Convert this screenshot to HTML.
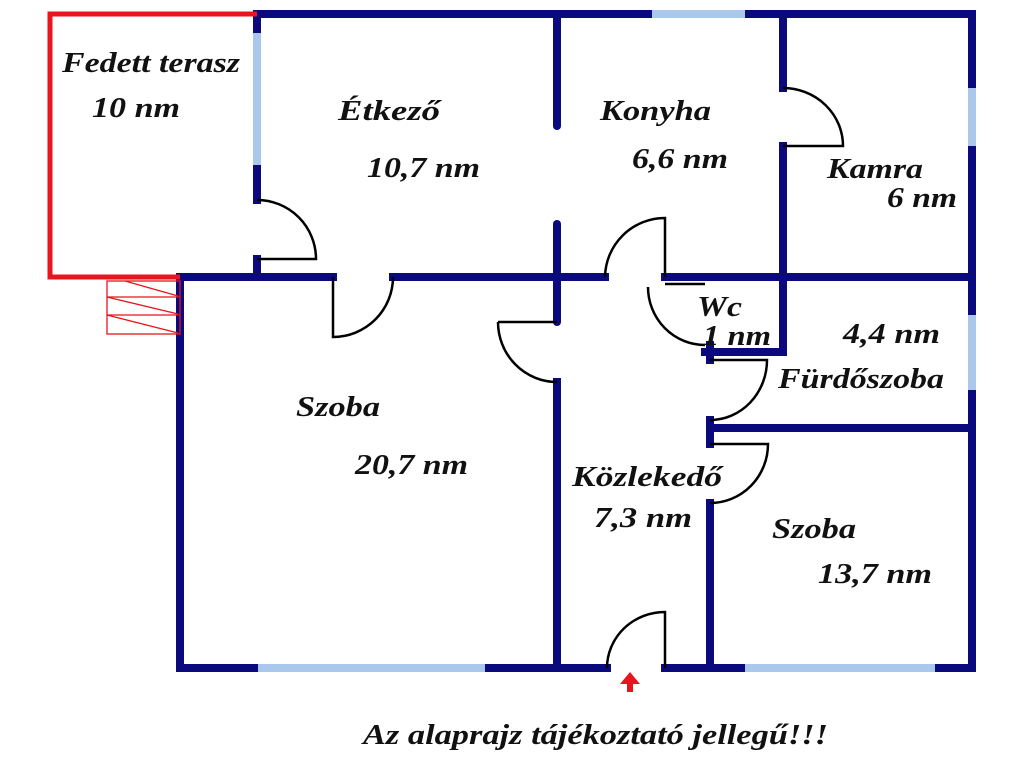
<!DOCTYPE html>
<html><head><meta charset="utf-8"><style>
html,body{margin:0;padding:0;background:#fff;}
svg{display:block;}
text{font-family:"Liberation Serif",serif;font-weight:bold;font-style:italic;font-size:29px;fill:#111;}
</style></head><body>
<svg width="1024" height="768" viewBox="0 0 1024 768" xmlns="http://www.w3.org/2000/svg">
<g stroke="#0a0a7c" stroke-width="8" stroke-linecap="square" fill="none">
<line x1="257" y1="14" x2="972" y2="14"/>
<line x1="972" y1="14" x2="972" y2="668"/>
<line x1="180" y1="668" x2="607" y2="668"/>
<line x1="665" y1="668" x2="972" y2="668"/>
<line x1="180" y1="277" x2="180" y2="668"/>
<line x1="257" y1="14" x2="257" y2="200"/>
<line x1="257" y1="259" x2="257" y2="277"/>
<line x1="180" y1="277" x2="333" y2="277"/>
<line x1="393" y1="277" x2="605" y2="277"/>
<line x1="665" y1="277" x2="972" y2="277"/>
<line x1="557" y1="14" x2="557" y2="126" stroke-linecap="round"/>
<line x1="557" y1="224" x2="557" y2="322" stroke-linecap="round"/>
<line x1="557" y1="382" x2="557" y2="668"/>
<line x1="783" y1="14" x2="783" y2="88"/>
<line x1="783" y1="146" x2="783" y2="352"/>
<line x1="705" y1="352" x2="783" y2="352"/>
<line x1="710" y1="345" x2="710" y2="360"/>
<line x1="710" y1="420" x2="710" y2="444"/>
<line x1="710" y1="428" x2="972" y2="428"/>
<line x1="710" y1="503" x2="710" y2="668"/>
</g>
<g stroke="#a9c8ec" stroke-width="8">
<line x1="652" y1="14" x2="745" y2="14"/>
<line x1="257" y1="33" x2="257" y2="165"/>
<line x1="972" y1="88" x2="972" y2="146"/>
<line x1="972" y1="315" x2="972" y2="390"/>
<line x1="258" y1="668" x2="485" y2="668"/>
<line x1="745" y1="668" x2="935" y2="668"/>
</g>
<g stroke="#e8141e" stroke-width="5" fill="none">
<polyline points="257,14 50,14 50,277 180,277"/>
</g>
<g stroke="#e8141e" stroke-width="1.3" fill="none">
<rect x="107" y="281" width="73" height="53"/>
<line x1="107" y1="297" x2="180" y2="297"/>
<line x1="107" y1="315" x2="180" y2="315"/>
<line x1="125" y1="281" x2="178" y2="296"/>
<line x1="107" y1="297" x2="178" y2="314"/>
<line x1="107" y1="315" x2="178" y2="333"/>
</g>
<g stroke="#000" stroke-width="2.5" fill="none">
<path d="M257,200 A59,59 0 0 1 316,259 L257,259"/>
<path d="M333,277 L333,337 A60,60 0 0 0 393,277"/>
<path d="M605,277 A60,60 0 0 1 665,218 L665,277"/>
<path d="M498,322 L557,322 M498,322 A59,60 0 0 0 557,382"/>
<path d="M783,88 A60,58 0 0 1 843,146 L783,146"/>
<path d="M665,284 L705,284 M648,287 A57,58 0 0 0 705,345"/>
<path d="M710,360 L767,360 A57,60 0 0 1 710,420"/>
<path d="M710,444 L768,444 A58,59 0 0 1 710,503"/>
<path d="M607,668 A58,56 0 0 1 665,612 L665,668"/>
</g>
<g fill="#e8141e">
<polygon points="630,672 620,684 627,684 627,692 633,692 633,684 640,684"/>
</g>
<text x="62" y="72" textLength="178" lengthAdjust="spacingAndGlyphs">Fedett terasz</text>
<text x="92" y="117" textLength="88" lengthAdjust="spacingAndGlyphs">10 nm</text>
<text x="338" y="120" textLength="102" lengthAdjust="spacingAndGlyphs">Étkező</text>
<text x="367" y="177" textLength="113" lengthAdjust="spacingAndGlyphs">10,7 nm</text>
<text x="600" y="120" textLength="111" lengthAdjust="spacingAndGlyphs">Konyha</text>
<text x="632" y="168" textLength="96" lengthAdjust="spacingAndGlyphs">6,6 nm</text>
<text x="827" y="178" textLength="96" lengthAdjust="spacingAndGlyphs">Kamra</text>
<text x="887" y="207" textLength="70" lengthAdjust="spacingAndGlyphs">6 nm</text>
<text x="697" y="316" textLength="45" lengthAdjust="spacingAndGlyphs">Wc</text>
<text x="703" y="345" textLength="68" lengthAdjust="spacingAndGlyphs">1 nm</text>
<text x="843" y="343" textLength="97" lengthAdjust="spacingAndGlyphs">4,4 nm</text>
<text x="778" y="388" textLength="166" lengthAdjust="spacingAndGlyphs">Fürdőszoba</text>
<text x="296" y="416" textLength="84" lengthAdjust="spacingAndGlyphs">Szoba</text>
<text x="355" y="474" textLength="113" lengthAdjust="spacingAndGlyphs">20,7 nm</text>
<text x="572" y="486" textLength="150" lengthAdjust="spacingAndGlyphs">Közlekedő</text>
<text x="594" y="527" textLength="98" lengthAdjust="spacingAndGlyphs">7,3 nm</text>
<text x="772" y="538" textLength="84" lengthAdjust="spacingAndGlyphs">Szoba</text>
<text x="818" y="583" textLength="114" lengthAdjust="spacingAndGlyphs">13,7 nm</text>
<text x="363" y="744" textLength="465" lengthAdjust="spacingAndGlyphs">Az alaprajz tájékoztató jellegű!!!</text>
</svg>
</body></html>
